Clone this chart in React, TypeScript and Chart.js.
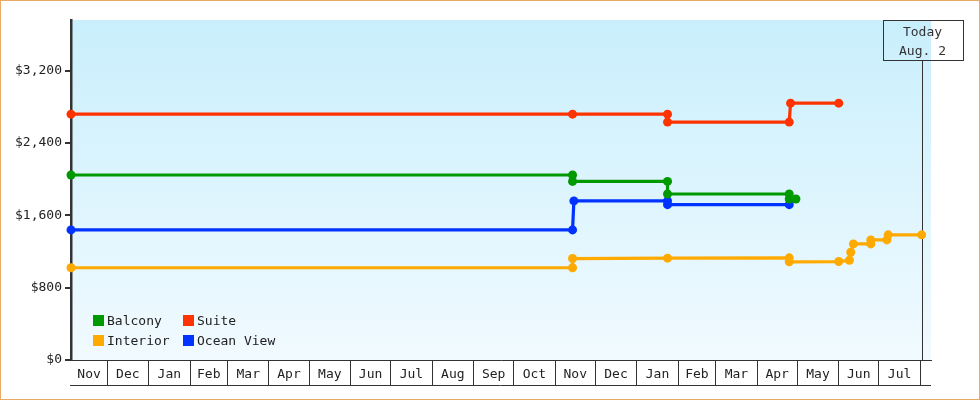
import React, { useEffect, useRef } from 'react';
import { Chart, registerables } from 'chart.js';

Chart.register(...registerables);

// ---- axis data ----
const axisStartDate = '2017-11-04';
const axisEndDate = '2019-08-09';
const firstMonthYear = 2017;
const firstMonthIndex = 10; // November (0-based)
const monthLabels = [
  'Nov', 'Dec', 'Jan', 'Feb', 'Mar', 'Apr', 'May', 'Jun', 'Jul', 'Aug', 'Sep', 'Oct',
  'Nov', 'Dec', 'Jan', 'Feb', 'Mar', 'Apr', 'May', 'Jun', 'Jul',
];
const yTickValues = [0, 800, 1600, 2400, 3200];
const yMax = 3760;
const todayDate = '2019-08-02';
const todayLines = ['Today', 'Aug. 2'];

// ---- series ----
const seriesNames = ['Balcony', 'Suite', 'Interior', 'Ocean View'];
const seriesColors = ['#009900', '#ff3300', '#ffaa00', '#0033ff'];

const balconyDates = ['2017-11-04', '2018-11-14', '2018-11-14', '2019-01-24', '2019-01-24', '2019-04-25', '2019-04-25', '2019-04-30'];
const balconyPrices = [2046, 2046, 1975, 1975, 1836, 1836, 1781, 1781];

const suiteDates = ['2017-11-04', '2018-11-14', '2019-01-24', '2019-01-24', '2019-04-25', '2019-04-26', '2019-06-01'];
const suitePrices = [2719, 2719, 2719, 2631, 2631, 2840, 2840];

const interiorDates = ['2017-11-04', '2018-11-14', '2018-11-14', '2019-01-24', '2019-04-25', '2019-04-25', '2019-06-01', '2019-06-09', '2019-06-10', '2019-06-12', '2019-06-25', '2019-06-25', '2019-07-07', '2019-07-08', '2019-08-02'];
const interiorPrices = [1020, 1020, 1122, 1126, 1130, 1086, 1089, 1103, 1192, 1284, 1284, 1328, 1328, 1384, 1384];

const oceanDates = ['2017-11-04', '2018-11-14', '2018-11-15', '2019-01-24', '2019-01-24', '2019-04-25'];
const oceanPrices = [1439, 1439, 1759, 1759, 1718, 1718];

const seriesDates = [balconyDates, suiteDates, interiorDates, oceanDates];
const seriesPrices = [balconyPrices, suitePrices, interiorPrices, oceanPrices];

const FONT = '"DejaVu Sans Mono", monospace';
const INK = '#333333';

function utc(s: string): number {
  const [y, m, d] = s.split('-').map(Number);
  return Date.UTC(y, m - 1, d);
}
const startMs = utc(axisStartDate);
function dayIndex(s: string): number {
  return (utc(s) - startMs) / 86400000;
}
function monthStartDay(i: number): number {
  return (Date.UTC(firstMonthYear, firstMonthIndex + i, 1) - startMs) / 86400000;
}

export default function App() {
  const canvasRef = useRef<HTMLCanvasElement | null>(null);

  useEffect(() => {
    if (!canvasRef.current) return;
    const xMax = dayIndex(axisEndDate);
    const boundaries: number[] = [];
    const labelMap = new Map<number, string>();
    monthLabels.forEach((lab, i) => {
      const a = Math.max(0, monthStartDay(i));
      const b = monthStartDay(i + 1);
      labelMap.set((a + b) / 2, lab);
      boundaries.push(b);
    });
    const boundarySet = new Set(boundaries);
    const xTicks = [...labelMap.keys(), ...boundaries].sort((p, q) => p - q);
    const todayX = dayIndex(todayDate);
    const TICK_BOX = 25;

    const bgPlugin = {
      id: 'bgPlugin',
      beforeDraw(chart: any) {
        const { ctx, chartArea } = chart;
        ctx.save();
        const g = ctx.createLinearGradient(0, chartArea.top, 0, chartArea.bottom);
        g.addColorStop(0, 'rgb(201,239,252)');
        g.addColorStop(1, 'rgb(241,250,255)');
        ctx.fillStyle = g;
        ctx.fillRect(chartArea.left, chartArea.top, chartArea.right - chartArea.left, chartArea.bottom - chartArea.top);
        ctx.strokeStyle = '#e8aa66';
        ctx.lineWidth = 1;
        ctx.strokeRect(0.5, 0.5, chart.width - 1, chart.height - 1);
        ctx.restore();
      },
      beforeDatasetsDraw(chart: any) {
        const { ctx, chartArea } = chart;
        const xs = chart.scales.x;
        const px = Math.round(xs.getPixelForValue(todayX)) + 0.5;
        const boxW = 80;
        const boxTop = chartArea.top + 0.5;
        const boxH = 40;
        ctx.save();
        ctx.strokeStyle = INK;
        ctx.lineWidth = 1;
        ctx.beginPath();
        ctx.moveTo(px, boxTop + boxH);
        ctx.lineTo(px, chartArea.bottom);
        ctx.stroke();
        ctx.strokeRect(Math.round(px - boxW / 2) + 0.5, boxTop, boxW, boxH);
        ctx.fillStyle = INK;
        ctx.font = '13px ' + FONT;
        ctx.textAlign = 'center';
        ctx.textBaseline = 'middle';
        ctx.fillText(todayLines[0], px, boxTop + 12.5);
        ctx.fillText(todayLines[1], px, boxTop + 31);
        // bottom line of month box row
        const yb = xs.top + TICK_BOX + 0.5;
        ctx.beginPath();
        ctx.moveTo(xs.left - 1, yb);
        ctx.lineTo(xs.right, yb);
        ctx.stroke();
        ctx.restore();
      },
    };

    const chart = new Chart(canvasRef.current, {
      type: 'line',
      data: {
        datasets: seriesNames.map((name, si) => ({
          label: name,
          data: seriesDates[si].map((d, k) => ({ x: dayIndex(d), y: seriesPrices[si][k] })),
          borderColor: seriesColors[si],
          backgroundColor: seriesColors[si],
          pointBackgroundColor: seriesColors[si],
          pointBorderWidth: 0,
          pointRadius: 4.5,
          borderWidth: 3.2,
          tension: 0,
          clip: false as any,
        })),
      },
      options: {
        animation: false,
        responsive: false,
        devicePixelRatio: 1,
        layout: { padding: { left: 0, right: 49, top: 20, bottom: 0 } },
        plugins: {
          legend: { display: false },
          tooltip: { enabled: false },
        },
        scales: {
          x: {
            type: 'linear',
            min: 0,
            max: xMax,
            afterBuildTicks(scale: any) {
              scale.ticks = xTicks.map((v) => ({ value: v }));
            },
            afterFit(scale: any) {
              scale.height = 40;
            },
            border: { display: true, color: INK, width: 1 },
            grid: {
              drawOnChartArea: false,
              drawTicks: true,
              tickLength: TICK_BOX,
              lineWidth: 1,
              color: (ctx: any) => (ctx.tick && boundarySet.has(ctx.tick.value) ? INK : 'rgba(0,0,0,0)'),
            },
            ticks: {
              autoSkip: false,
              maxRotation: 0,
              minRotation: 0,
              padding: -18,
              color: '#222',
              font: { family: FONT, size: 13 },
              callback: (v: any) => labelMap.get(Number(v)) ?? '',
            },
          },
          y: {
            type: 'linear',
            min: 0,
            max: yMax,
            afterBuildTicks(scale: any) {
              scale.ticks = yTickValues.map((v) => ({ value: v }));
            },
            afterFit(scale: any) {
              scale.width = 71;
            },
            border: { display: true, color: INK, width: 2.5 },
            grid: {
              drawOnChartArea: false,
              drawTicks: true,
              tickLength: 6,
              lineWidth: 2,
              color: INK,
            },
            ticks: {
              padding: 3,
              color: '#222',
              font: { family: FONT, size: 13 },
              callback: (v: any) => '$' + Number(v).toLocaleString('en-US'),
            },
          },
        },
      },
      plugins: [bgPlugin],
    });
    return () => chart.destroy();
  }, []);

  const legendRows = [
    [0, 1],
    [2, 3],
  ];
  const colX = [93, 183];
  const rowY = [315, 335];

  return (
    <div style={{ position: 'absolute', left: 0, top: 0, width: 980, height: 400 }}>
      <canvas ref={canvasRef} width={980} height={400} style={{ display: 'block', width: 980, height: 400 }} />
      {legendRows.map((row, ri) =>
        row.map((si, ci) => (
          <div
            key={si}
            style={{
              position: 'absolute',
              left: colX[ci],
              top: rowY[ri],
              height: 11,
              display: 'flex',
              alignItems: 'center',
              fontFamily: FONT,
              fontSize: 13,
              color: '#222',
              whiteSpace: 'nowrap',
            }}
          >
            <span style={{ display: 'inline-block', width: 11, height: 11, background: seriesColors[si], marginRight: 3 }} />
            <span style={{ lineHeight: '11px' }}>{seriesNames[si]}</span>
          </div>
        ))
      )}
    </div>
  );
}
